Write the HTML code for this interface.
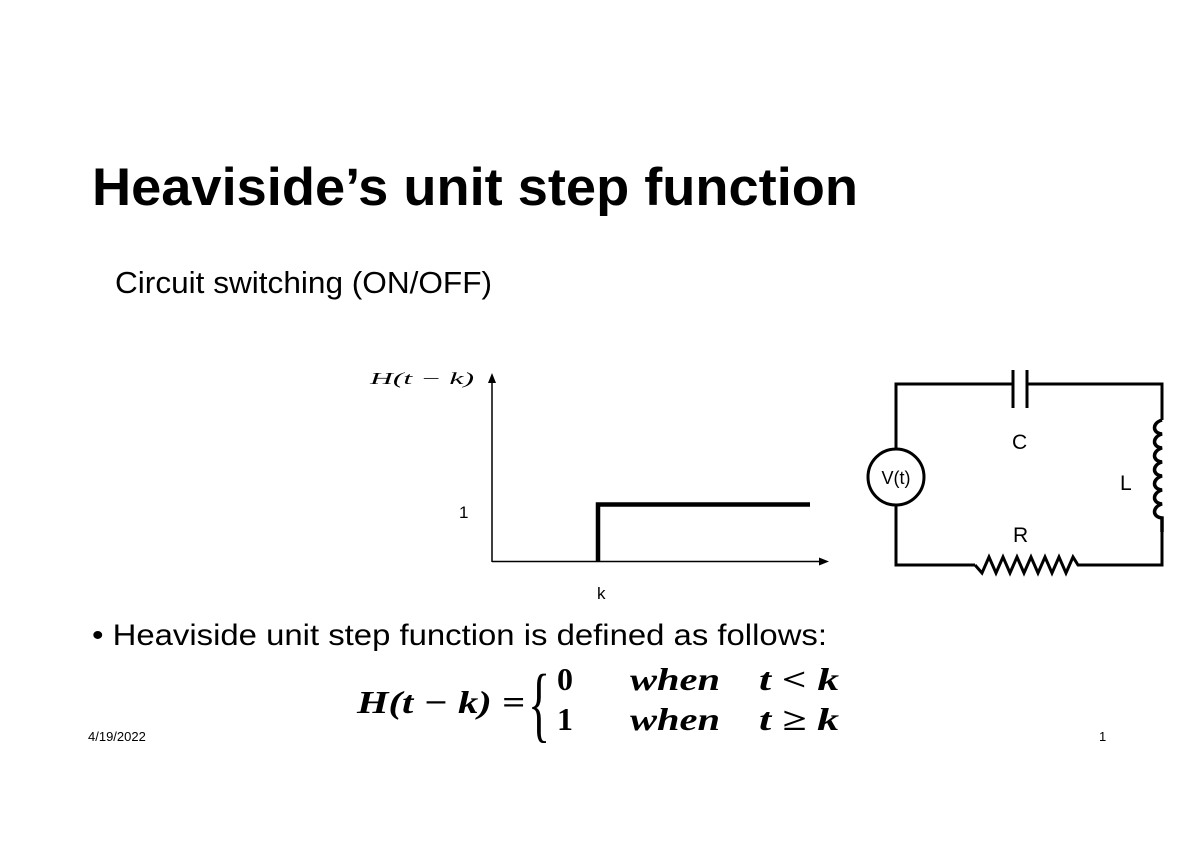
<!DOCTYPE html>
<html><head><meta charset="utf-8"><style>
html,body{margin:0;padding:0;background:#fff;}
svg{display:block;}
</style></head><body>
<svg width="1200" height="849" viewBox="0 0 1200 849" xmlns="http://www.w3.org/2000/svg">
<rect width="1200" height="849" fill="#fff"/>
<text x="92" y="205" font-family="Liberation Sans, sans-serif" font-weight="bold" font-size="53" textLength="766" lengthAdjust="spacingAndGlyphs">Heaviside’s unit step function</text>
<text x="115" y="293" font-family="Liberation Sans, sans-serif" font-size="31" textLength="377" lengthAdjust="spacingAndGlyphs">Circuit switching (ON/OFF)</text>

<!-- graph -->
<text x="370" y="384" font-family="Liberation Serif, serif" font-style="italic" font-size="17" textLength="104" lengthAdjust="spacingAndGlyphs">H(t − k)</text>
<line x1="492" y1="562" x2="492" y2="382" stroke="#000" stroke-width="1.5"/>
<polygon points="492,373 488,383 496,383" fill="#000"/>
<line x1="492" y1="561.5" x2="820" y2="561.5" stroke="#000" stroke-width="1.5"/>
<polygon points="829,561.5 819,557.5 819,565.5" fill="#000"/>
<polyline points="598,562 598,504.5 810,504.5" fill="none" stroke="#000" stroke-width="4.5"/>
<text x="459" y="518" font-family="Liberation Sans, sans-serif" font-size="17">1</text>
<text x="597" y="599" font-family="Liberation Sans, sans-serif" font-size="17">k</text>

<!-- circuit -->
<g fill="none" stroke="#000" stroke-width="3">
<polyline points="896,449 896,384 1013,384"/>
<polyline points="1027,384 1162,384 1162,420"/>
<line x1="1013" y1="370" x2="1013" y2="408"/>
<line x1="1027" y1="370" x2="1027" y2="408"/>
<circle cx="896" cy="477" r="28"/>
<polyline points="896,505 896,565 975,565"/>
<polyline points="975,565 982,573 989,557 996,573 1003,557 1010,573 1017,557 1024,573 1031,557 1038,573 1045,557 1052,573 1059,557 1066,573 1073,557 1078,565 1162,565 1162,532"/>
<path stroke-width="3.5" d="M1162,420 c-10,3 -10,13 0,14 c-10,3 -10,13 0,14 c-10,3 -10,13 0,14 c-10,3 -10,13 0,14 c-10,3 -10,13 0,14 c-10,3 -10,13 0,14 c-10,3 -10,13 0,14 l0,14"/>
</g>
<text x="1012" y="449" font-family="Liberation Sans, sans-serif" font-size="21">C</text>
<text x="1120" y="490" font-family="Liberation Sans, sans-serif" font-size="21">L</text>
<text x="1013" y="542" font-family="Liberation Sans, sans-serif" font-size="21">R</text>
<text x="896" y="484" text-anchor="middle" font-family="Liberation Sans, sans-serif" font-size="18">V(t)</text>

<!-- bullet -->
<text x="92" y="645" font-family="Liberation Sans, sans-serif" font-size="30" textLength="735" lengthAdjust="spacingAndGlyphs">• Heaviside unit step function is defined as follows:</text>

<!-- equation -->
<g font-family="Liberation Serif, serif" font-weight="bold" font-size="32">
<text x="357" y="713" font-style="italic" textLength="168" lengthAdjust="spacingAndGlyphs">H(t − k) =</text>
<text x="528" y="732" font-weight="normal" font-size="84" transform="translate(528,0) scale(0.55,1) translate(-528,0)">{</text>
<text x="557" y="690">0</text>
<text x="557" y="730">1</text>
<text x="630" y="690" font-style="italic" textLength="90" lengthAdjust="spacingAndGlyphs">when</text>
<text x="630" y="730" font-style="italic" textLength="90" lengthAdjust="spacingAndGlyphs">when</text>
<text x="759" y="690" font-style="italic" textLength="80" lengthAdjust="spacingAndGlyphs">t &lt; k</text>
<text x="759" y="730" font-style="italic" textLength="80" lengthAdjust="spacingAndGlyphs">t ≥ k</text>
</g>

<text x="88" y="741" font-family="Liberation Sans, sans-serif" font-size="13">4/19/2022</text>
<text x="1099" y="741" font-family="Liberation Sans, sans-serif" font-size="13">1</text>
</svg>
</body></html>
